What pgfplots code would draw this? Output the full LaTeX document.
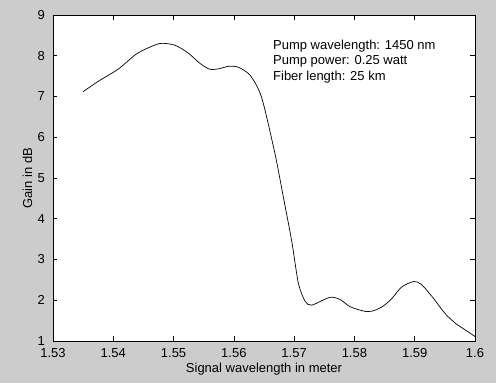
\documentclass[border=0pt]{standalone}
\usepackage{fontspec}
\setmainfont{Liberation Sans}
\usepackage{pgfplots}
\pgfplotsset{compat=1.18}
\definecolor{figgray}{rgb}{0.8,0.8,0.8}
\newcommand{\mf}{\fontsize{13}{15.3}\selectfont}
\begin{document}
\begin{tikzpicture}
\fill[figgray] (-53pt,-42pt) rectangle (443pt,341pt);
\begin{axis}[
  at={(0pt,0pt)}, anchor=south west,
  scale only axis, width=422pt, height=326pt,
  xmin=1.53, xmax=1.6, ymin=1, ymax=9,
  xtick={1.53,1.54,1.55,1.56,1.57,1.58,1.59,1.6},
  xticklabels={1.53,1.54,1.55,1.56,1.57,1.58,1.59,1.6},
  ytick={1,2,3,4,5,6,7,8,9},
  scaled x ticks=false,
  /pgf/number format/assume math mode=true,
  tick align=inside,
  xtick pos=both, ytick pos=both,
  major tick length=4.5pt,
  tick style={black, line width=0.6pt},
  axis line style={black, line width=0.7pt},
  axis background/.style={fill=white},
  every tick label/.append style={font=\mf, inner sep=0pt},
  xticklabel style={yshift=-7pt},
  yticklabel style={xshift=-8pt},
  every axis x label/.style={at={(axis description cs:0.5,0)}, anchor=north, inner sep=0pt, yshift=-21.7pt, font=\mf},
  every axis y label/.style={at={(axis description cs:0,0.5)}, xshift=-30.6pt, rotate=90, anchor=north, inner sep=0pt, font=\mf},
  xlabel={Signal wavelength in meter},
  ylabel={Gain in dB},
  clip=true,
]
\addplot[black, line width=0.7pt, smooth, tension=0.45] coordinates {
(1.535,7.12)
(1.5378,7.40)
(1.5408,7.67)
(1.5436,8.02)
(1.5447,8.12)
(1.5477,8.30)
(1.5502,8.26)
(1.5524,8.07)
(1.5544,7.81)
(1.5560,7.67)
(1.5575,7.68)
(1.5591,7.74)
(1.5607,7.72)
(1.5627,7.52)
(1.5646,6.98)
(1.5668,5.61)
(1.5682,4.54)
(1.5696,3.45)
(1.5707,2.42)
(1.5718,1.98)
(1.5729,1.88)
(1.5759,2.07)
(1.5776,2.02)
(1.5793,1.84)
(1.5820,1.72)
(1.5835,1.76)
(1.5848,1.86)
(1.5862,2.04)
(1.5878,2.32)
(1.5898,2.46)
(1.5911,2.39)
(1.5931,2.05)
(1.5950,1.68)
(1.5968,1.43)
(1.5984,1.27)
(1.6000,1.11)
};
\node[anchor=north west, inner sep=0pt, align=left, font=\mf] at (rel axis cs:0.5213,0.924)
  {Pump wavelength: 1450 nm\\Pump power: 0.25 watt\\Fiber length: 25 km};
\node[anchor=base east, inner sep=0pt, font=\mf] at (rel axis cs:1,0)
  [xshift=-1pt, yshift=-36.7pt] {x 10\raisebox{3pt}{\fontsize{10.5}{10}\selectfont -6}};
\end{axis}
\end{tikzpicture}
\end{document}
